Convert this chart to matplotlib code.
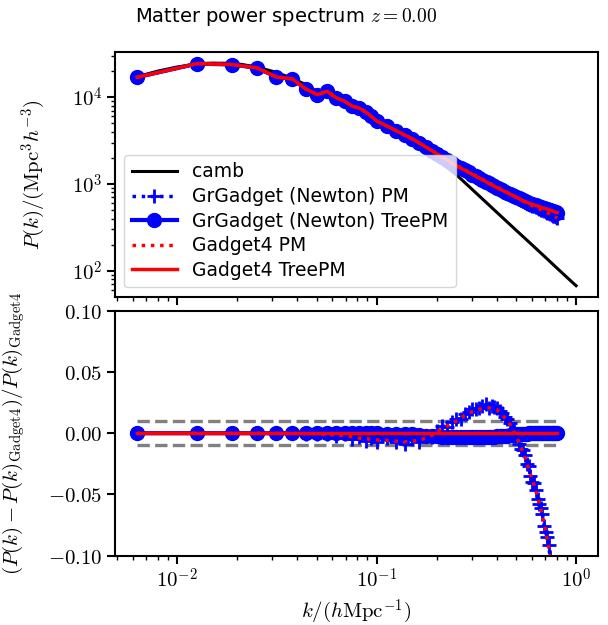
from matplotlib import pyplot as plt
import numpy as np

plt.rcParams['mathtext.fontset'] = 'cm'
plt.rcParams['font.size'] = 15
plt.rcParams['axes.linewidth'] = 1.5
plt.rcParams['xtick.major.width'] = 1.5
plt.rcParams['ytick.major.width'] = 1.5
plt.rcParams['xtick.minor.width'] = 1.0
plt.rcParams['ytick.minor.width'] = 1.0
plt.rcParams['xtick.major.size'] = 5.5
plt.rcParams['ytick.major.size'] = 5.5
plt.rcParams['xtick.minor.size'] = 3.0
plt.rcParams['ytick.minor.size'] = 3.0

# linear theory (camb)
k_camb = [0.00628, 0.008, 0.01, 0.0125, 0.015, 0.018, 0.021, 0.025, 0.03, 0.035,
          0.04, 0.045, 0.05, 0.055, 0.06, 0.065, 0.07, 0.08, 0.09, 0.1,
          0.12, 0.14, 0.16, 0.18, 0.2, 0.25, 0.3, 0.4, 0.5, 0.6,
          0.7, 0.8, 0.9, 1.0]
p_camb = [17200, 20000, 22300, 24000, 24700, 24600, 23900, 22300, 19900, 17600,
          15500, 13700, 11600, 10900, 10150, 9450, 8750, 7450, 6250, 5150,
          4100, 3380, 2790, 2300, 1920, 1290, 875, 473, 294, 200,
          144, 108, 84, 67.3]

# simulation bins
k_sim = [0.0063, 0.0126, 0.0188, 0.0251, 0.0314, 0.0377, 0.0440, 0.0503, 0.0565, 0.0628,
         0.0691, 0.0754, 0.0817, 0.0880, 0.0942, 0.1005, 0.1131, 0.1257, 0.1382, 0.1508,
         0.1634, 0.1759, 0.1885, 0.2011, 0.2136, 0.2262, 0.2388,
         0.2513, 0.2639, 0.2765, 0.2890, 0.3016, 0.3142, 0.3267, 0.3393, 0.3519, 0.3644,
         0.3770, 0.3896, 0.4021, 0.4147, 0.4273, 0.4398, 0.4524, 0.4650, 0.4775, 0.4901,
         0.5027, 0.5152, 0.5278, 0.5404, 0.5529, 0.5655, 0.5781, 0.5906, 0.6032, 0.6158,
         0.6283, 0.6409, 0.6535, 0.6660, 0.6786, 0.6912, 0.7037, 0.7163, 0.7288, 0.7414,
         0.7540, 0.7665, 0.7791, 0.7917, 0.8042]

# Gadget4 TreePM (reference)
p_g4_tree = [17000, 24400, 23800, 21800, 17100, 16300, 12500, 10700, 11700, 9840,
             9000, 7900, 7500, 6800, 6000, 5300, 4640, 4100, 3670, 3320,
             2980, 2680, 2430, 2220, 2040, 1880, 1745,
             1620, 1525, 1440, 1362, 1290, 1228, 1170, 1116, 1065, 1020,
             977, 940, 904, 874, 845, 818, 791, 767, 744, 722,
             701, 682, 664, 646, 629, 616, 603, 593, 584, 575,
             566, 557, 549, 541, 533, 526, 519, 512, 505, 499,
             493, 486, 480, 474, 469]

# relative differences w.r.t. Gadget4 TreePM
rel_g4_pm = [0.0, 0.0, 0.0, 0.0, 0.0, -0.0002, -0.0003, -0.0005, -0.001, -0.0015,
             -0.002, -0.003, -0.004, -0.0045, -0.005, -0.0055, -0.006, -0.0065, -0.007, -0.0065,
             -0.006, -0.004, -0.002, 0.001, 0.004, 0.006, 0.008,
             0.010, 0.0123, 0.0145, 0.016, 0.0175, 0.0185, 0.0195, 0.020, 0.0205, 0.0207,
             0.0205, 0.020, 0.019, 0.017, 0.0145, 0.0125, 0.0105, 0.0075, 0.004, 0.0005,
             -0.003, -0.007, -0.011, -0.015, -0.019, -0.024, -0.029, -0.0335, -0.038, -0.0425,
             -0.047, -0.052, -0.057, -0.0625, -0.068, -0.074, -0.080, -0.0865, -0.093, -0.100,
             -0.107, -0.114, -0.121, -0.1285, -0.136]

rel_gr_pm = [0.0, 0.0, 0.0, 0.0, 0.0, -0.0002, -0.0003, -0.0005, -0.0005, -0.0025,
             -0.001, -0.0045, -0.0035, -0.0065, -0.004, -0.007, -0.004, -0.0075, -0.009, -0.005,
             -0.007, -0.002, -0.0035, 0.002, 0.006, 0.005, 0.0095,
             0.012, 0.0115, 0.0155, 0.0175, 0.020, 0.0195, 0.0205, 0.0225, 0.0235, 0.021,
             0.0225, 0.0215, 0.0205, 0.0185, 0.0165, 0.0135, 0.0115, 0.0085, 0.003, 0.0015,
             -0.0015, -0.0085, -0.013, -0.014, -0.018, -0.0255, -0.027, -0.035, -0.0395, -0.041,
             -0.046, -0.0535, -0.058, -0.061, -0.066, -0.0755, -0.081, -0.085, -0.0915, -0.1015,
             -0.109, -0.1125, -0.120, -0.130, -0.137]

rel_gr_tree = [0.0, 0.0, 0.0, 0.0, 0.0, 0.0, 0.0, 0.0, 0.0, 0.0,
               0.0, 0.0, 0.0, 0.0, 0.0, 0.0, -0.0005, -0.0005, -0.001, -0.001,
               -0.0015, -0.002, -0.002, -0.0025, -0.003, -0.003, -0.0035,
               -0.0035, -0.0035, -0.0035, -0.0035, -0.0035, -0.0035, -0.0035, -0.0032, -0.003, -0.003,
               -0.003, -0.0027, -0.0025, -0.0022, -0.002, -0.002, -0.002, -0.0017, -0.0015, -0.0012,
               -0.001, -0.001, -0.001, -0.0007, -0.0005, -0.0003, 0.0, 0.0, 0.0, 0.0,
               0.0, 0.0, 0.0, 0.0, 0.0, 0.0, 0.0, 0.0, 0.0, 0.0,
               0.0, 0.0, 0.0, 0.0, 0.0]

k = np.array(k_sim)
pref = np.array(p_g4_tree)
r_g4pm = np.array(rel_g4_pm)
r_grpm = np.array(rel_gr_pm)
r_grtree = np.array(rel_gr_tree)

fig, (ax1, ax2) = plt.subplots(2, 1, sharex=True, figsize=(6.08, 6.25), dpi=100)
fig.subplots_adjust(left=0.189, right=0.9836, top=0.9168, bottom=0.111, hspace=0.057)

logfmt = plt.FuncFormatter(lambda v, p: r'$10^{%d}$' % round(np.log10(v)))

ax1.plot(k_camb, p_camb, color='k', lw=2.2, label='camb')
ax1.plot(k, pref * (1 + r_grpm), ':', color='b', lw=2.5, marker='+', ms=10, mew=2,
         label='GrGadget (Newton) PM')
ax1.plot(k, pref * (1 + r_grtree), '-', color='b', lw=3, marker='o', ms=10,
         label='GrGadget (Newton) TreePM')
ax1.plot(k, pref * (1 + r_g4pm), ':', color='r', lw=2.5, label='Gadget4 PM')
ax1.plot(k, pref, '-', color='r', lw=2.5, label='Gadget4 TreePM')
ax1.set_xscale('log')
ax1.set_yscale('log')
ax1.yaxis.set_major_formatter(logfmt)
ax1.set_ylabel(r'$P(k)/(\mathrm{Mpc}^3h^{-3})$')
ax1.yaxis.set_label_coords(-0.139, 0.5)
ax1.legend(loc='lower left', fontsize=13.5, labelspacing=0.3, handlelength=2.4)

ax2.plot(k, 0.01 * np.ones_like(k), '--', color='gray', lw=2.4)
ax2.plot(k, -0.01 * np.ones_like(k), '--', color='gray', lw=2.4)
ax2.plot(k, r_grpm, ':', color='b', lw=2.5, marker='+', ms=10, mew=2)
ax2.plot(k, r_grtree, '-', color='b', lw=3, marker='o', ms=10)
ax2.plot(k, r_g4pm, ':', color='r', lw=2.5)
ax2.plot(k, np.zeros_like(k), '-', color='r', lw=2.5)
ax2.set_ylim(-0.1, 0.1)
ax2.set_yticks([-0.1, -0.05, 0.0, 0.05, 0.1])
ax2.yaxis.set_major_formatter(plt.FuncFormatter(lambda v, p: r'$%.2f$' % v))
ax2.xaxis.set_major_formatter(logfmt)
ax2.set_xlabel(r'$k/(h\mathrm{Mpc}^{-1})$')
ax2.set_ylabel(r'$(P(k)-P(k)_{\mathrm{Gadget4}})/P(k)_{\mathrm{Gadget4}}$', fontsize=15)
ax2.yaxis.set_label_coords(-0.183, 0.5)

fig.suptitle(r'Matter power spectrum $z=0.00$', x=0.47, y=0.972, va='center', fontsize=14)
plt.savefig('out.png', dpi=100)
